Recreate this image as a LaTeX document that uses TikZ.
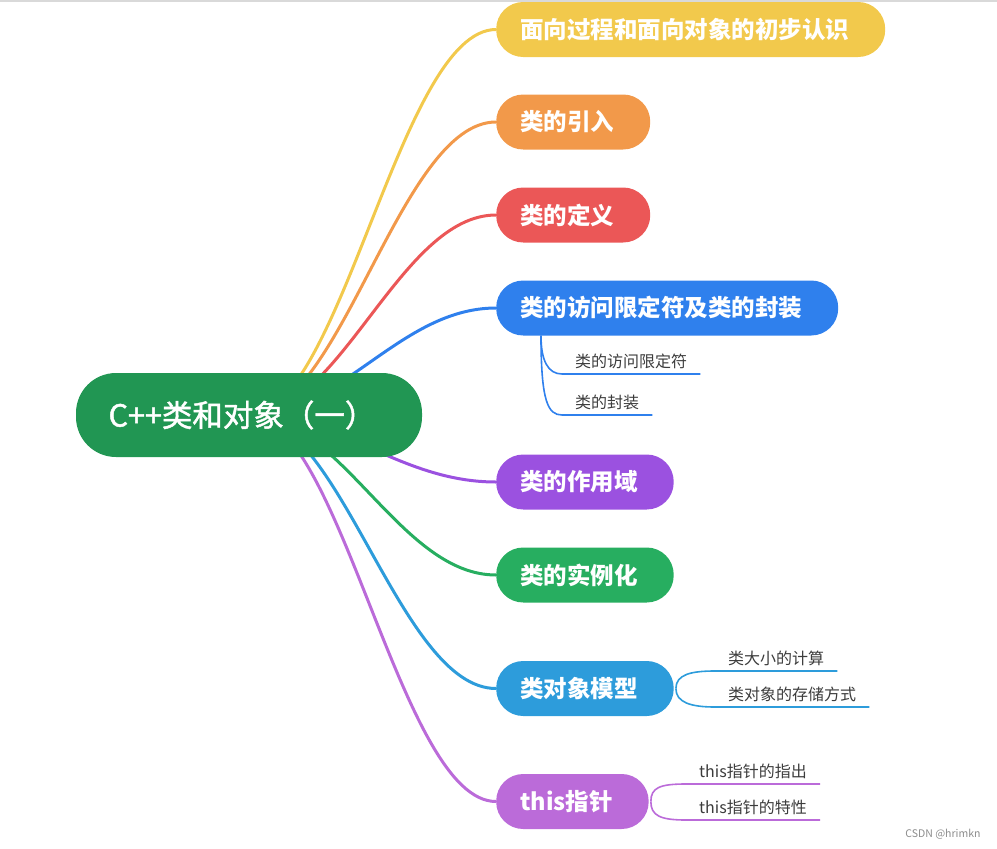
\documentclass[tikz,border=0pt]{standalone}
\usepackage{fontspec}
\setmainfont{Noto Sans CJK SC}
\newfontfamily\rootfont{Noto Sans CJK SC}[FakeBold=1.5]
\definecolor{mRoot}{HTML}{219653}
\definecolor{mYellow}{HTML}{F2C94C}
\definecolor{mOrange}{HTML}{F2994A}
\definecolor{mRed}{HTML}{EB5757}
\definecolor{mBlue}{HTML}{2F80ED}
\definecolor{mPurple}{HTML}{9B51E0}
\definecolor{mGreen}{HTML}{27AE60}
\definecolor{mSky}{HTML}{2D9CDB}
\definecolor{mViolet}{HTML}{BB6BD9}
\definecolor{mText}{HTML}{3C3C3C}
\usetikzlibrary{backgrounds}

\begin{document}
\begin{tikzpicture}[x=1pt, y=-1pt,
  topic/.style={fill=#1, text=white, font=\bfseries\fontsize{23.5}{26}\selectfont, rounded corners=27pt, minimum height=55pt, inner xsep=24pt, execute at end node=\hspace{12pt}, anchor=west},
  topicline/.style={draw=#1, line width=3pt},
  subtopic/.style={text=mText, font=\fontsize{16}{18}\selectfont, inner xsep=13pt, inner ysep=5pt, anchor=south west},
  subline/.style={draw=#1, line width=1.6pt}]
\useasboundingbox (0,0) rectangle (997,849);
\draw[draw=black!15, line width=1.5pt] (0,0.75) -- (997,0.75);

\node[fill=mRoot, text=white, rounded corners=40pt, minimum width=346pt, minimum height=84pt, inner xsep=10pt, execute at end node=\hspace{14pt}, font=\rootfont\fontsize{30.5}{33}\selectfont] (root) at (249,415) {C++类和对象（一）};

\node[topic=mYellow] (proc) at (496,29.5) {面向过程和面向对象的初步认识};
\node[topic=mOrange] (intro) at (496,122) {类的引入};
\node[topic=mRed] (defn) at (496,215) {类的定义};
\node[topic=mBlue] (encap) at (496,308) {类的访问限定符及类的封装};
\node[topic=mPurple] (scope) at (496,482) {类的作用域};
\node[topic=mGreen] (inst) at (496,575) {类的实例化};
\node[topic=mSky] (model) at (496,688.5) {类对象模型};
\node[topic=mViolet] (thisp) at (496,801.5) {this指针};

\begin{scope}[on background layer]
\draw[topicline=mYellow] (root.center) .. controls +(92,0) and +(-96,0) .. (proc.west);
\draw[topicline=mOrange] (root.center) .. controls +(92,0) and +(-96,0) .. (intro.west);
\draw[topicline=mRed] (root.center) .. controls +(92,0) and +(-96,0) .. (defn.west);
\draw[topicline=mBlue] (root.center) .. controls +(92,0) and +(-96,0) .. (encap.west);
\draw[topicline=mPurple] (root.center) .. controls +(92,0) and +(-96,0) .. (scope.west);
\draw[topicline=mGreen] (root.center) .. controls +(92,0) and +(-96,0) .. (inst.west);
\draw[topicline=mSky] (root.center) .. controls +(92,0) and +(-96,0) .. (model.west);
\draw[topicline=mViolet] (root.center) .. controls +(92,0) and +(-96,0) .. (thisp.west);
\end{scope}

% second level
\node[subtopic] (spec) at (562,374) {类的访问限定符};
\node[subtopic] (wrap) at (562,415) {类的封装};
\coordinate (fork) at ([xshift=45pt]encap.south west);
\draw[subline=mBlue] (fork) .. controls +(0,25) and +(-14,0) .. (spec.south west) -- (spec.south east);
\draw[subline=mBlue] (fork) .. controls +(0,66) and +(-14,0) .. (wrap.south west) -- (wrap.south east);

\node[subtopic] (size) at (715,671) {类大小的计算};
\node[subtopic] (store) at (715,707) {类对象的存储方式};
\draw[subline=mSky] ([xshift=2pt]model.east) .. controls +(0,-14) and +(-24,0) .. (size.south west) -- (size.south east);
\draw[subline=mSky] ([xshift=2pt]model.east) .. controls +(0,14) and +(-24,0) .. (store.south west) -- (store.south east);

\node[subtopic] (point) at (686,784) {this指针的指出};
\node[subtopic] (trait) at (686,820) {this指针的特性};
\draw[subline=mViolet] ([xshift=2pt]thisp.east) .. controls +(0,-14) and +(-26,0) .. (point.south west) -- (point.south east);
\draw[subline=mViolet] ([xshift=2pt]thisp.east) .. controls +(0,14) and +(-26,0) .. (trait.south west) -- (trait.south east);

\node[text=black!45, font=\fontsize{10.5}{12}\selectfont, anchor=east] (mark) at (984,834) {CSDN @hrimkn};
\end{tikzpicture}
\end{document}
